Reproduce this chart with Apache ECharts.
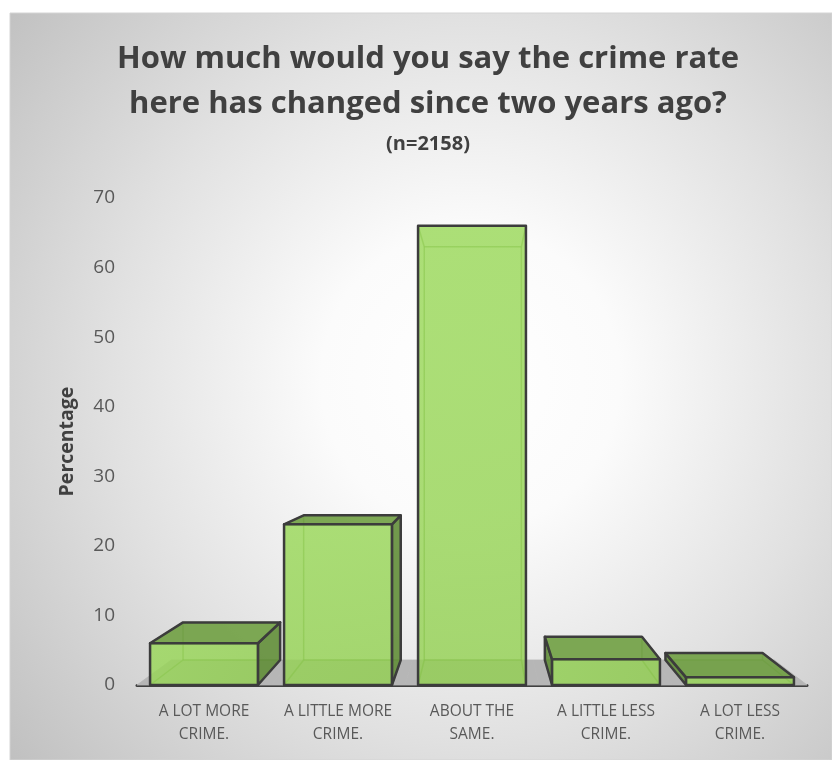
<!DOCTYPE html>
<html><head><meta charset="utf-8">
<script src="https://cdn.jsdelivr.net/npm/echarts@6/dist/echarts.min.js"></script>
<style>html,body{margin:0;padding:0;background:#fff}#c{width:832px;height:760px}</style>
</head><body><div id="c"></div>
<script>
// ---- data ----
const categories = ['A LOT MORE\nCRIME.', 'A LITTLE MORE\nCRIME.', 'ABOUT THE\nSAME.', 'A LITTLE LESS\nCRIME.', 'A LOT LESS\nCRIME.'];
const percentages = [6.0, 23.1, 66.0, 3.7, 1.1];
const yMin = 0, yMax = 70, yStep = 10;
const titleText = 'How much would you say the crime rate\nhere has changed since two years ago?';
const subTitleText = '(n=2158)';
const yAxisName = 'Percentage';

// ---- 3D look (styling only) ----
const VP = [480, 435];
const DEPTH = 0.1;
const FONT = 'Open Sans';
function proj(p) { return [p[0] + DEPTH * (VP[0] - p[0]), p[1] + DEPTH * (VP[1] - p[1])]; }

const seriesData = percentages.map((v, i) => [i, v]);

function renderFloor(params, api) {
  const i = api.value(0);
  const c = api.coord([i, 0]);
  const bw = api.size([1, 0])[0];
  const xl = c[0] - bw / 2, xr = c[0] + bw / 2, yb = c[1];
  return {
    type: 'polygon',
    shape: { points: [[xl, yb], [xr, yb], proj([xr, yb]), proj([xl, yb])] },
    style: { fill: '#b6b6b6', stroke: '#b6b6b6', lineWidth: 0.8 }
  };
}

function renderBar(params, api) {
  const i = api.value(0), v = api.value(1);
  const top = api.coord([i, v]);
  const base = api.coord([i, 0]);
  const bw = api.size([1, 0])[0] * 0.805;
  const x0 = top[0] - bw / 2, x1 = top[0] + bw / 2, yt = top[1], yb = base[1];
  const FL = [x0, yt], FR = [x1, yt], BL = [x0, yb], BR = [x1, yb];
  const pFL = proj(FL), pFR = proj(FR), pBL = proj(BL), pBR = proj(BR);
  const dark = '#3c3c3c';
  const children = [];
  const hiddenEdges = [[pFL, pFR], [pBL, pBR], [pFL, pBL], [pFR, pBR], [BL, pBL], [BR, pBR], [FL, pFL], [FR, pFR]];
  hiddenEdges.forEach(e => children.push({
    type: 'line',
    shape: { x1: e[0][0], y1: e[0][1], x2: e[1][0], y2: e[1][1] },
    style: { stroke: 'rgba(80,130,40,0.55)', lineWidth: 1.5 }
  }));
  if (x1 < VP[0]) {
    children.push({ type: 'polygon', shape: { points: [FR, pFR, pBR, BR] },
      style: { fill: 'rgba(98,142,56,0.9)', stroke: dark, lineWidth: 2.5, lineJoin: 'round' } });
  }
  if (x0 > VP[0]) {
    children.push({ type: 'polygon', shape: { points: [FL, pFL, pBL, BL] },
      style: { fill: 'rgba(98,142,56,0.9)', stroke: dark, lineWidth: 2.5, lineJoin: 'round' } });
  }
  if (yt > VP[1]) {
    children.push({ type: 'polygon', shape: { points: [FL, FR, pFR, pFL] },
      style: { fill: 'rgba(112,160,66,0.9)', stroke: dark, lineWidth: 2.5, lineJoin: 'round' } });
  }
  children.push({
    type: 'rect',
    shape: { x: x0, y: yt, width: bw, height: yb - yt },
    style: {
      fill: new echarts.graphic.LinearGradient(0, 0, 1, 1, [
        { offset: 0, color: 'rgba(152,216,86,0.8)' },
        { offset: 1, color: 'rgba(146,208,80,0.8)' }
      ]),
      stroke: dark, lineWidth: 2.5, lineJoin: 'round'
    }
  });
  return { type: 'group', children };
}

const chart = echarts.init(document.getElementById('c'), null, { renderer: 'canvas' });
chart.setOption({
  animation: false,
  textStyle: { fontFamily: FONT },
  graphic: [{
    type: 'rect', z: -10, silent: true,
    shape: { x: 10, y: 13, width: 822, height: 747 },
    style: {
      fill: new echarts.graphic.RadialGradient(0.56, 0.49, 0.8, [
        { offset: 0, color: '#ffffff' },
        { offset: 0.25, color: '#fbfbfb' },
        { offset: 0.6, color: '#e1e1e1' },
        { offset: 1, color: '#c0c0c0' }
      ]),
      stroke: '#d4d4d4', lineWidth: 1
    }
  }],
  title: {
    text: titleText,
    subtext: subTitleText,
    left: 428, top: 37, textAlign: 'center', padding: 0, itemGap: 4,
    textStyle: { fontFamily: FONT, fontSize: 31, fontWeight: 'bold', color: '#404040', lineHeight: 45 },
    subtextStyle: { fontFamily: FONT, fontSize: 20, fontWeight: 'bold', color: '#404040', lineHeight: 26 }
  },
  grid: { left: 137, right: 25, top: 198, bottom: 75 },
  xAxis: {
    type: 'category',
    data: categories,
    axisTick: { show: false },
    axisLine: { lineStyle: { color: '#404040', width: 3 } },
    axisLabel: { color: '#595959', fontSize: 15.5, lineHeight: 23, margin: 15, fontFamily: FONT, interval: 0 }
  },
  yAxis: {
    type: 'value', min: yMin, max: yMax, interval: yStep,
    axisLine: { show: false }, axisTick: { show: false }, splitLine: { show: false },
    axisLabel: { color: '#595959', fontSize: 19, margin: 22, fontFamily: FONT },
    name: yAxisName, nameLocation: 'middle', nameGap: 60, nameRotate: 90,
    nameTextStyle: { color: '#404040', fontSize: 19.5, fontWeight: 'bold', fontFamily: FONT }
  },
  series: [
    { type: 'custom', z: 1, renderItem: renderFloor, data: seriesData, silent: true },
    { type: 'custom', z: 2, renderItem: renderBar, data: seriesData }
  ]
});
</script>
</body></html>
